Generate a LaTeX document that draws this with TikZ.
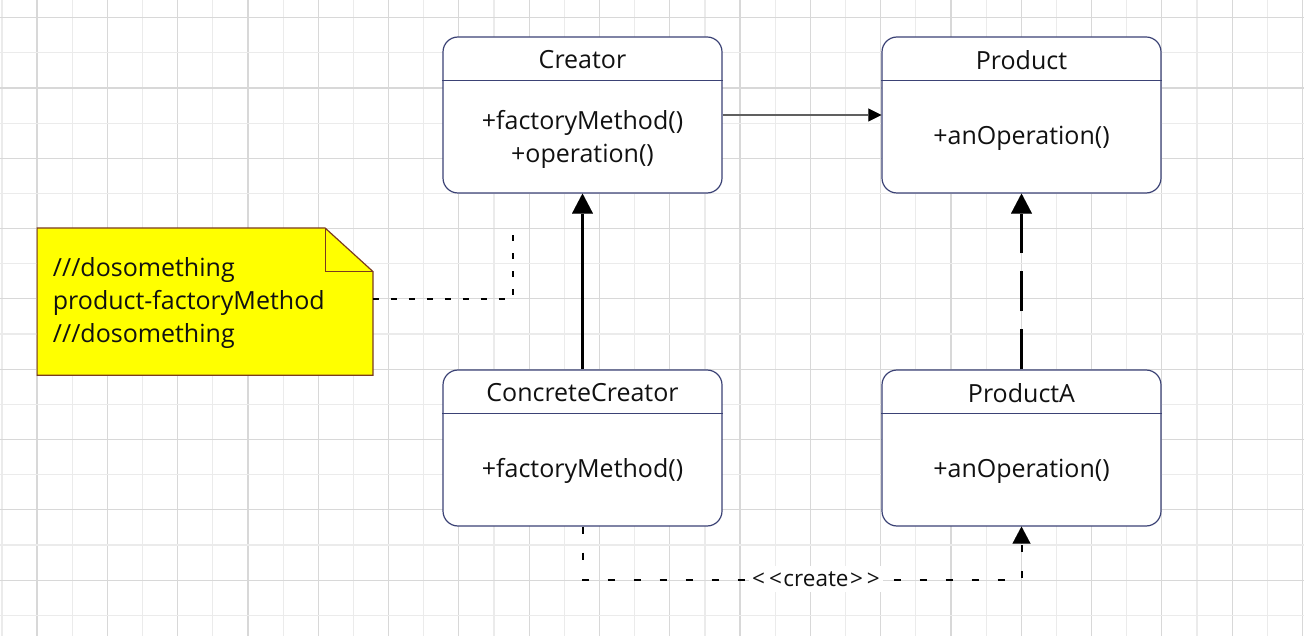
\documentclass[tikz,border=0pt]{standalone}
\usepackage{fontspec}
\setmainfont{Open Sans}
\usetikzlibrary{arrows.meta}
\definecolor{gridD}{HTML}{D8D8D8}
\definecolor{gridL}{HTML}{EBEBEB}
\definecolor{boxline}{HTML}{3B4275}
\definecolor{notefill}{HTML}{FFFF00}
\definecolor{noteline}{HTML}{7A3B1E}
\definecolor{txt}{HTML}{111111}
\definecolor{assocline}{HTML}{606060}
\tikzset{
  cls/.style={draw=boxline, line width=1.2pt, rounded corners=15pt, fill=white,
    minimum width=279pt, minimum height=156pt, inner sep=0pt},
  divider/.style={draw=boxline, line width=1.2pt},
  ctitle/.style={text=txt, font=\fontsize{25}{29}\selectfont, inner sep=0pt},
  cbody/.style={text=txt, align=center, font=\fontsize{25}{33}\selectfont, inner sep=0pt},
  notetxt/.style={text=txt, font=\fontsize{25}{33}\selectfont, inner sep=0pt, anchor=base west},
  noteborder/.style={draw=noteline, line width=1.2pt, line join=miter},
  assoc/.style={draw=assocline, line width=1.3pt,
    -{Triangle[length=13pt,width=13pt,color=black,line width=0.01pt]}},
  inherit/.style={draw=black, line width=3.5pt,
    -{Triangle[length=20pt,width=21pt,line width=0.01pt]}},
  realize/.style={inherit, dash pattern=on 40pt off 18pt},
  dep/.style={draw=black, line width=2pt, dash pattern=on 7pt off 19pt,
    -{Triangle[length=17pt,width=18pt,line width=0.01pt]}},
  notedash/.style={draw=black, line width=1.9pt, dash pattern=on 6pt off 12pt},
  lbl/.style={fill=white, text=txt, inner xsep=3pt, inner ysep=5pt, font=\fontsize{22.5}{26}\selectfont},
}
\begin{document}
\begin{tikzpicture}[x=1pt,y=-1pt]
\useasboundingbox (0,0) rectangle (1304,636);
\fill[white] (0,0) rectangle (1304,636);
% grid
\foreach \i in {0,...,37}{
  \pgfmathsetmacro\gx{1.9+35.15*\i}
  \ifodd\i
    \draw[gridD, line width=1.2pt] (\gx,0) -- (\gx,636);
  \else
    \draw[gridL, line width=1.2pt] (\gx,0) -- (\gx,636);
  \fi
}
\foreach \j in {0,...,17}{
  \pgfmathsetmacro\gy{17.7+35.15*\j}
  \ifodd\j
    \draw[gridL, line width=1.2pt] (0,\gy) -- (1304,\gy);
  \else
    \draw[gridD, line width=1.2pt] (0,\gy) -- (1304,\gy);
  \fi
}

% classes
\node[cls] (creator) at (582.5,115) {};
\node[cls] (product) at (1021.5,115) {};
\node[cls] (cc) at (582.5,448) {};
\node[cls] (pa) at (1021.5,448) {};

\foreach \b in {creator,product,cc,pa}{
  \draw[divider] ([yshift=-44pt]\b.north west) -- ([yshift=-44pt]\b.north east);
}

\node[ctitle] (creatorT) at ([yshift=-23.5pt]creator.north) {Creator};
\node[cbody] (creatorB) at ([yshift=-24pt]creator.center) {+factoryMethod()\\+operation()};
\node[ctitle] (productT) at ([yshift=-23.5pt]product.north) {Product};
\node[cbody] (productB) at ([yshift=-23pt]product.center) {+anOperation()};
\node[ctitle] (ccT) at ([yshift=-23.5pt]cc.north) {ConcreteCreator};
\node[cbody] (ccB) at ([yshift=-23pt]cc.center) {+factoryMethod()};
\node[ctitle] (paT) at ([yshift=-23.5pt]pa.north) {ProductA};
\node[cbody] (paB) at ([yshift=-23pt]pa.center) {+anOperation()};

% note
\node[minimum width=335.4pt, minimum height=146.7pt, inner sep=0pt] (note) at (205,301.65) {};
\draw[noteborder, fill=notefill] (note.north west) -- ([xshift=-47.7pt]note.north east)
  -- ([yshift=-43.4pt]note.north east) -- (note.south east) -- (note.south west) -- cycle;
\draw[noteborder] ([xshift=-47.7pt]note.north east) -- ([xshift=-47.7pt,yshift=-43.4pt]note.north east)
  -- ([yshift=-43.4pt]note.north east);
\node[notetxt] (n1) at (52.7,277) {///dosomething};
\node[notetxt] (n2) at (52.7,310) {product-factoryMethod};
\node[notetxt] (n3) at (52.7,343) {///dosomething};

\coordinate (noteEnd) at (513,228);
\draw[notedash] ([yshift=3pt]note.east) -| (noteEnd);

% connectors
\draw[assoc] (creator.east) -- (product.west);
\draw[inherit] (cc.north) -- (creator.south);
\draw[realize] (pa.north) -- (product.south);
\draw[dep] (cc.south) -- ++(0,53) -| (pa.south);
\node[lbl] (create) at (816,579) {<\kern4pt<\kern1.5pt create\kern1.5pt>\kern4pt>};
\end{tikzpicture}
\end{document}
